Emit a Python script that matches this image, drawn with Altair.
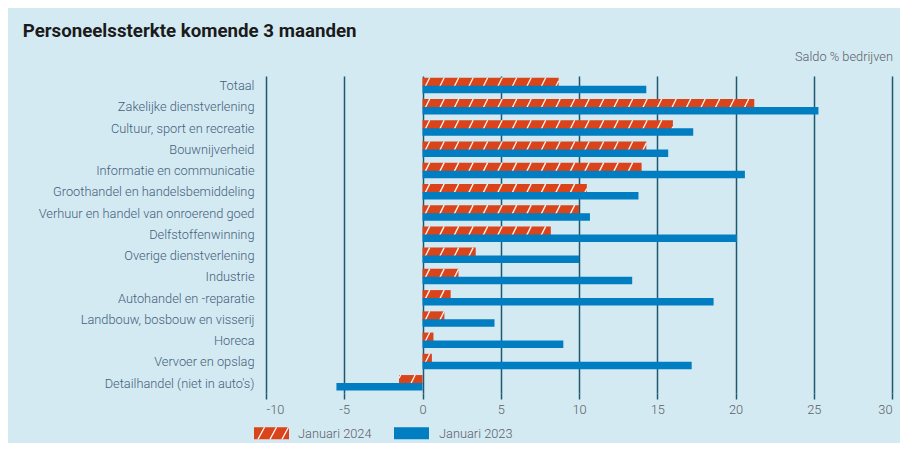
import json
import altair as alt
import pandas as pd

# ---------------- data ----------------
categories = [
    "Totaal",
    "Zakelijke dienstverlening",
    "Cultuur, sport en recreatie",
    "Bouwnijverheid",
    "Informatie en communicatie",
    "Groothandel en handelsbemiddeling",
    "Verhuur en handel van onroerend goed",
    "Delfstoffenwinning",
    "Overige dienstverlening",
    "Industrie",
    "Autohandel en -reparatie",
    "Landbouw, bosbouw en visserij",
    "Horeca",
    "Vervoer en opslag",
    "Detailhandel (niet in auto's)",
]
jan2024 = [8.7, 21.2, 16.0, 14.3, 14.0, 10.5, 10.0, 8.2, 3.4, 2.3, 1.8, 1.4, 0.7, 0.6, -1.5]
jan2023 = [14.3, 25.3, 17.3, 15.7, 20.6, 13.8, 10.7, 20.1, 10.0, 13.4, 18.6, 4.6, 9.0, 17.2, -5.5]
x_ticks = [-10, -5, 0, 5, 10, 15, 20, 25, 30]
series_names = ["Januari 2024", "Januari 2023"]
title_text = "Personeelssterkte komende 3 maanden"
unit_text = "Saldo % bedrijven"

# ---------------- style ----------------
BG = "#d4eaf3"
ORANGE = "#d9441b"
BLUE = "#017dc1"
GRID = "#1d5871"
LABEL = "#44607a"
TICKLBL = "#5b6066"
FONT = "Roboto"
FS = 12.8
FW = 300

W, H = 626, 317
PX_PER_UNIT = W / 40.0

# bar thickness (in row units)
T24_TOP, T24_BOT = -0.377, 0.047
T23_TOP, T23_BOT = 0.0, 0.353

rows = list(range(len(categories)))
df24 = pd.DataFrame({
    "row": rows,
    "y": [r + T24_TOP for r in rows],
    "y2": [r + T24_BOT for r in rows],
    "x0": [0.0] * len(rows),
    "v": jan2024,
})
df23 = pd.DataFrame({
    "row": rows,
    "y": [r + T23_TOP for r in rows],
    "y2": [r + T23_BOT for r in rows],
    "x0": [0.0] * len(rows),
    "v": jan2023,
})

# hatch stripes for the 2024 bars (pattern decoration)
P = 14.5 / PX_PER_UNIT     # stripe period
D = 4.5 / PX_PER_UNIT      # stripe lean
PHASE = 0.17
hatch = []
for r, v in zip(rows, jan2024):
    lo, hi = min(0.0, v), max(0.0, v)
    yb, yt = r + T24_BOT, r + T24_TOP
    for k in range(-15, 45):
        a = PHASE + k * P
        t0 = max(0.0, (lo - a) / D)
        t1 = min(1.0, (hi - a) / D)
        if t0 < t1:
            hatch.append({
                "x": a + t0 * D, "x2": a + t1 * D,
                "y": yb + t0 * (yt - yb), "y2": yb + t1 * (yt - yb),
            })
dfh = pd.DataFrame(hatch)

xscale = alt.Scale(domain=[-10, 30], nice=False, zero=False)
yscale = alt.Scale(domain=[-0.457, 14.468], reverse=True, nice=False, zero=False)

x_axis = alt.Axis(
    values=x_ticks, grid=True, gridColor=GRID, gridWidth=1.5, gridOpacity=1,
    ticks=True, tickColor=GRID, tickSize=6, tickWidth=1.5, domain=False,
    labelPadding=4, labelFontSize=FS, labelFontWeight=FW, labelColor=TICKLBL, labelFont=FONT,
    labelExpr="datum.value + ''", title=None,
)
y_axis = alt.Axis(
    values=rows, grid=False, ticks=False, domain=False,
    labelExpr=json.dumps(categories) + "[datum.value]",
    labelPadding=12, labelFontSize=FS, labelFontWeight=FW, labelColor=LABEL, labelFont=FONT,
    labelLimit=400, title=None,
)


def ranged(df, mark):
    return mark.encode(
        x=alt.X("x:Q", scale=xscale, axis=x_axis) if "x" in df.columns else alt.X("x0:Q", scale=xscale, axis=x_axis),
        x2="x2:Q" if "x2" in df.columns else "v:Q",
        y=alt.Y("y:Q", scale=yscale, axis=y_axis),
        y2="y2:Q",
    )


bars24 = ranged(df24, alt.Chart(df24).mark_rect(color=ORANGE))
stripes = ranged(dfh, alt.Chart(dfh).mark_rule(color="white", strokeWidth=1.3, opacity=0.95))
bars23 = ranged(df23, alt.Chart(df23).mark_rect(color=BLUE))

one = pd.DataFrame({"k": [0]})

title = alt.Chart(one).mark_text(
    text=title_text, font=FONT, fontSize=18.7, fontWeight="bold", color="#1b1b1b",
    align="left", baseline="alphabetic",
).encode(x=alt.value(-243.3), y=alt.value(-39.3))

unit = alt.Chart(one).mark_text(
    text=unit_text, font=FONT, fontSize=FS, fontWeight=FW, color=TICKLBL,
    align="right", baseline="middle",
).encode(x=alt.value(627), y=alt.value(-19))

# legend
LX1, LX2 = -12, 23
BX1, BX2 = 128, 163
LY1, LY2 = 351.3, 363.3
leg_sw24 = alt.Chart(one).mark_rect(color=ORANGE).encode(
    x=alt.value(LX1), x2=alt.value(LX2), y=alt.value(LY1), y2=alt.value(LY2))
leg_sw23 = alt.Chart(one).mark_rect(color=BLUE).encode(
    x=alt.value(BX1), x2=alt.value(BX2), y=alt.value(LY1), y2=alt.value(LY2))
leg_stripes = []
for sx in [-8, 4, 16]:
    leg_stripes.append(
        alt.Chart(one).mark_rule(color="white", strokeWidth=1.3).encode(
            x=alt.value(sx), x2=alt.value(sx + 6.5),
            y=alt.value(LY2), y2=alt.value(LY1))
    )
leg_t24 = alt.Chart(one).mark_text(
    text=series_names[0], font=FONT, fontSize=FS, fontWeight=FW, color=TICKLBL,
    align="left", baseline="middle").encode(x=alt.value(32), y=alt.value(357.5))
leg_t23 = alt.Chart(one).mark_text(
    text=series_names[1], font=FONT, fontSize=FS, fontWeight=FW, color=TICKLBL,
    align="left", baseline="middle").encode(x=alt.value(173), y=alt.value(357.5))

chart = alt.layer(
    bars24, stripes, bars23, title, unit,
    leg_sw24, *leg_stripes, leg_sw23, leg_t24, leg_t23,
).properties(
    width=W, height=H,
    autosize=alt.AutoSizeParams(type="none"),
    padding={"left": 258, "top": 68, "right": 8, "bottom": 50},
    background=BG,
).configure_view(stroke=None)

chart.save("out.html", embed_options={"renderer": "svg", "actions": False})
